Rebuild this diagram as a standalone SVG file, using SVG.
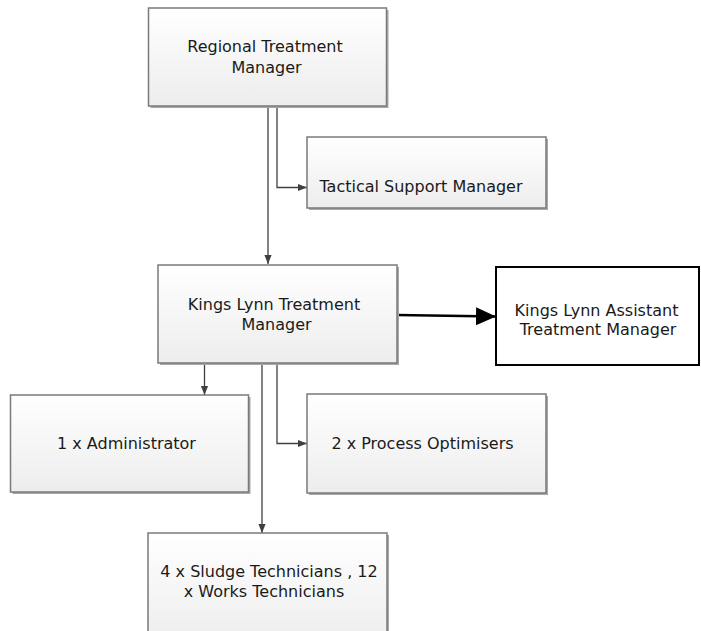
<svg xmlns="http://www.w3.org/2000/svg" width="701" height="631" viewBox="0 0 701 631">
<defs>
<linearGradient id="g" x1="0" y1="0" x2="0" y2="1">
<stop offset="0" stop-color="#ffffff"/>
<stop offset="1" stop-color="#ededed"/>
</linearGradient>
<marker id="a" viewBox="0 0 10 10" refX="10" refY="5" markerWidth="9" markerHeight="9" markerUnits="userSpaceOnUse" orient="auto">
<path d="M0,1 L10,5 L0,9 Z" fill="#404040"/>
</marker>
<marker id="b" viewBox="0 0 10 10" refX="10" refY="5" markerWidth="20" markerHeight="20" markerUnits="userSpaceOnUse" orient="auto">
<path d="M0,0.5 L10,5 L0,9.5 Z" fill="#000"/>
</marker>
</defs>
<style>
.sh{fill:#a8a8a8}
.bx{fill:url(#g);stroke:#7a7a7a;stroke-width:1.5}
.t{font-family:"DejaVu Sans",Verdana,sans-serif;font-size:16px;fill:#1a1a1a;text-anchor:middle}
.c{fill:none;stroke:#404040;stroke-width:1.3}
</style>
<g id="connectors">
<path class="c" d="M268,106 V264" marker-end="url(#a)"/>
<path class="c" d="M277,106 V187.5 H307" marker-end="url(#a)"/>
<path class="c" d="M204.5,363 V395" marker-end="url(#a)"/>
<path class="c" d="M262,363 V533" marker-end="url(#a)"/>
<path class="c" d="M277,363 V443.5 H307" marker-end="url(#a)"/>
<path fill="none" stroke="#000" stroke-width="2.6" d="M397,315 L496,316.5" marker-end="url(#b)"/>
</g>
<g id="regional">
<rect class="sh" x="150.5" y="10" width="238" height="98"/>
<rect class="bx" x="148.5" y="8" width="238" height="98"/>
<text class="t" x="265" y="52">Regional Treatment</text>
<text class="t" x="266.5" y="72.5">Manager</text>
</g>
<g id="tactical">
<rect class="sh" x="309" y="139" width="239" height="71"/>
<rect class="bx" x="307" y="137" width="239" height="71"/>
<text class="t" x="421" y="192">Tactical Support Manager</text>
</g>
<g id="kltm">
<rect class="sh" x="160" y="267" width="239" height="98"/>
<rect class="bx" x="158" y="265" width="239" height="98"/>
<text class="t" x="274" y="310">Kings Lynn Treatment</text>
<text class="t" x="276.5" y="329.5">Manager</text>
</g>
<g id="assistant">
<rect x="496" y="267" width="203" height="98" fill="#fff" stroke="#000" stroke-width="2"/>
<text class="t" x="596.5" y="316">Kings Lynn Assistant</text>
<text class="t" x="598" y="334.5">Treatment Manager</text>
</g>
<g id="admin">
<rect class="sh" x="12.5" y="397" width="238" height="97"/>
<rect class="bx" x="10.5" y="395" width="238" height="97"/>
<text class="t" x="126.5" y="449">1 x Administrator</text>
</g>
<g id="process">
<rect class="sh" x="309" y="396" width="239" height="99"/>
<rect class="bx" x="307" y="394" width="239" height="99"/>
<text class="t" x="422.5" y="449">2 x Process Optimisers</text>
</g>
<g id="sludge">
<rect class="sh" x="150" y="535" width="239" height="110"/>
<rect class="bx" x="148" y="533" width="239" height="110"/>
<text class="t" x="269" y="577">4 x Sludge Technicians , 12</text>
<text class="t" x="264" y="597">x Works Technicians</text>
</g>
</svg>
